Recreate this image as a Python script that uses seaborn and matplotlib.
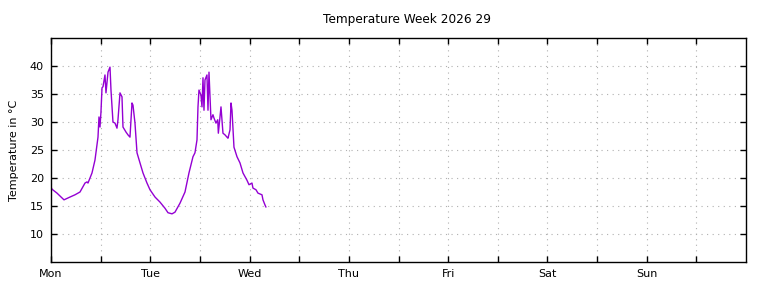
import pandas as pd
import seaborn as sns
import matplotlib.pyplot as plt

# hours since Monday 00:00
hours = [0.0, 0.24, 1.45, 3.14, 4.59, 5.80, 7.01, 8.22, 8.70, 8.94, 9.91, 10.63, 11.36,
         11.60, 11.84, 12.08, 12.33, 12.57, 13.05, 13.29, 13.78, 14.26, 14.50, 14.98,
         15.47, 15.95, 16.19, 16.68, 17.16, 17.40, 18.13, 18.61, 19.09, 19.58, 19.82,
         20.30, 20.79, 21.51, 22.24, 23.20, 23.93, 25.14, 26.34, 27.55, 28.28, 29.25,
         29.97, 31.18, 32.39, 33.35, 34.32, 34.80, 35.29, 35.53, 35.77, 36.25, 36.50,
         36.74, 36.98, 37.22, 37.70, 37.95, 38.19, 38.67, 39.15, 39.40, 39.88, 40.30,
         40.45, 40.85, 41.09, 41.57, 42.06, 42.54, 42.78, 43.27, 43.51, 43.75, 44.23,
         44.96, 45.68, 46.41, 47.37, 47.86, 48.58, 48.82, 49.55, 50.03, 51.00, 51.24,
         51.72, 51.96]
temps = [18.4, 18.0, 17.3, 16.1, 16.6, 17.0, 17.5, 19.1, 19.3, 19.1, 20.9, 23.2, 27.3,
         30.9, 29.1, 31.8, 36.1, 36.3, 38.4, 35.2, 38.9, 39.8, 35.7, 30.0,
         29.8, 28.9, 30.4, 35.2, 34.5, 29.1, 28.2, 27.7, 27.3, 33.4, 33.0,
         29.8, 24.5, 22.7, 20.9, 19.1, 17.9, 16.6, 15.7, 14.6, 13.8, 13.6,
         13.9, 15.5, 17.5, 20.9, 23.8, 24.5, 26.8, 32.7, 35.7, 34.8, 32.7,
         37.9, 32.1, 37.5, 38.4, 32.1, 38.9, 30.4, 31.3, 30.7, 29.8, 30.4,
         28.0, 30.9, 32.7, 28.0, 27.7, 27.3, 27.1, 28.6, 33.4, 32.1, 25.5,
         23.8, 22.7, 20.9, 19.6, 18.8, 19.1, 18.2, 17.9, 17.3, 17.0, 16.1,
         15.2, 14.8]
day_labels = ["Mon", "Tue", "Wed", "Thu", "Fri", "Sat", "Sun"]
title = "Temperature Week 2026 29"

df = pd.DataFrame({"hours": hours, "temp": temps})

sns.set_style("white")
plt.rcParams["font.family"] = ["DejaVu Sans"]
plt.rcParams["font.size"] = 8

fig = plt.figure(figsize=(7.68, 2.88), dpi=100)
ax = fig.add_axes([51 / 768, 1 - 262 / 288, 695 / 768, 224 / 288])

sns.lineplot(data=df, x="hours", y="temp", ax=ax, color="#9400d3", linewidth=1)

ax.set_xlim(0, 168)
ax.set_ylim(5, 45)
xt = list(range(0, 168, 12))
ax.set_xticks(xt)
ax.set_xticklabels([day_labels[t // 24] if t % 24 == 0 else "" for t in xt])
ax.set_yticks(range(10, 41, 5))

ax.tick_params(direction="in", length=4, width=1, color="black",
               bottom=True, left=True, top=True, right=True,
               labelsize=8, labelcolor="black")
ax.tick_params(axis="x", pad=5)
ax.tick_params(axis="y", pad=5)
ax.grid(True, linestyle=(0, (1, 4)), color="#b0b0b0", linewidth=0.8)
for s in ax.spines.values():
    s.set_color("black")
    s.set_linewidth(1)

ax.set_xlabel("")
ax.set_ylabel("Temperature in °C", fontsize=8, labelpad=8, color="black")
fig.text(407 / 768, 1 - 19 / 288, title, ha="center", va="center", fontsize=8.7,
         color="black")

fig.savefig("out.png", dpi=100)
